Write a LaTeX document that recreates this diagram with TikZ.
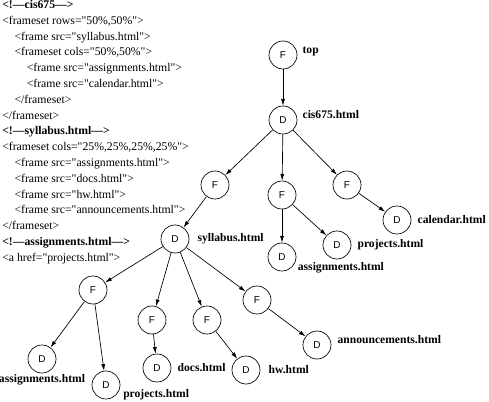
\documentclass[tikz,border=0pt]{standalone}
\usepackage{fontspec}
\setmainfont{Liberation Serif}[Ligatures=TeXOff]
\newfontfamily\letterfont{Liberation Sans}
\usetikzlibrary{arrows.meta, positioning}
\tikzset{
    docnode/.style={
        circle, draw, line width=0.5pt,
        minimum size=21pt, inner sep=0pt,
        font=\letterfont\fontsize{7.5}{9}\selectfont
    },
    filelabel/.style={inner sep=0pt, font=\bfseries\fontsize{8.7}{10}\selectfont},
    codetext/.style={inner sep=0pt, align=left, font=\fontsize{8.8}{11.85}\selectfont},
    link/.style={-{Latex[length=5pt,width=3pt]}, line width=0.5pt},
}
\newcommand{\ind}{\hspace*{9.2pt}}

\begin{document}
\begin{tikzpicture}[x=0.75pt, y=-0.75pt]
    \useasboundingbox (0,0) rectangle (489,402);

    % frame source listing
    \node[codetext, anchor=north west] (src) at (2,0)
        {\textbf{<!\textemdash cis675\textemdash >}\\
         <frameset rows="50\%,50\%">\\
         \ind<frame src="syllabus.html">\\
         \ind<frameset cols="50\%,50\%">\\
         \ind\ind<frame src="assignments.html">\\
         \ind\ind<frame src="calendar.html">\\
         \ind</frameset>\\
         </frameset>\\
         \textbf{<!\textemdash syllabus.html\textemdash >}\\
         <frameset cols="25\%,25\%,25\%,25\%">\\
         \ind<frame src="assignments.html">\\
         \ind<frame src="docs.html">\\
         \ind<frame src="hw.html">\\
         \ind<frame src="announcements.html">\\
         </frameset>\\
         \textbf{<!\textemdash assignments.html\textemdash >}\\
         <a href="projects.html">};

    % tree of frames (F) and documents (D)
    \node[docnode] (ftop)  at (283,55)  {F};
    \node[docnode] (dcis)  at (283,120) {D};
    \node[docnode] (f1)    at (215,185) {F};
    \node[docnode] (f2)    at (282,195) {F};
    \node[docnode] (f3)    at (347,185) {F};
    \node[docnode] (dsyl)  at (175,239) {D};
    \node[docnode] (dasg)  at (282,257) {D};
    \node[docnode] (dprj)  at (337,245) {D};
    \node[docnode] (dcal)  at (397,220) {D};
    \node[docnode] (f4)    at (93,290)  {F};
    \node[docnode] (f5)    at (152,320) {F};
    \node[docnode] (f6)    at (207,320) {F};
    \node[docnode] (f7)    at (257,300) {F};
    \node[docnode] (dasg2) at (42,359)  {D};
    \node[docnode] (dprj2) at (106,385) {D};
    \node[docnode] (ddoc)  at (157,368) {D};
    \node[docnode] (dhw)   at (246,370) {D};
    \node[docnode] (dann)  at (317,345) {D};

    % page names
    \node[filelabel, right=3.75pt of ftop, yshift=3pt] (ltop) {top};
    \node[filelabel, right=3.75pt of dcis, yshift=3.75pt] (lcis) {cis675.html};
    \node[filelabel, right=6pt of dsyl] (lsyl) {syllabus.html};
    \node[filelabel, right=4.5pt of dprj] (lprj) {projects.html};
    \node[filelabel, right=4.5pt of dcal] (lcal) {calendar.html};
    \node[filelabel, right=1pt of dasg, yshift=-8pt] (lasg) {assignments.html};
    \node[filelabel, below=1pt of dasg2] (lasg2) {assignments.html};
    \node[filelabel, right=2pt of dprj2, yshift=-7.5pt] (lprj2) {projects.html};
    \node[filelabel, right=4.5pt of ddoc] (ldoc) {docs.html};
    \node[filelabel, right=6pt of dhw] (lhw) {hw.html};
    \node[filelabel, right=4.5pt of dann, yshift=3.75pt] (lann) {announcements.html};

    % links
    \draw[link] (ftop) -- (dcis);
    \draw[link] (dcis) -- (f1);
    \draw[link] (dcis) -- (f2);
    \draw[link] (dcis) -- (f3);
    \draw[link] (f1) -- (dsyl);
    \draw[link] (f2) -- (dasg);
    \draw[link] (f2) -- (dprj);
    \draw[link] (f3) -- (dcal);
    \draw[link] (dsyl) -- (f4);
    \draw[link] (dsyl) -- (f5);
    \draw[link] (dsyl) -- (f6);
    \draw[link] (dsyl) -- (f7);
    \draw[link] (f4) -- (dasg2);
    \draw[link] (f4) -- (dprj2);
    \draw[link] (f5) -- (ddoc);
    \draw[link] (f6) -- (dhw);
    \draw[link] (f7) -- (dann);
\end{tikzpicture}
\end{document}
